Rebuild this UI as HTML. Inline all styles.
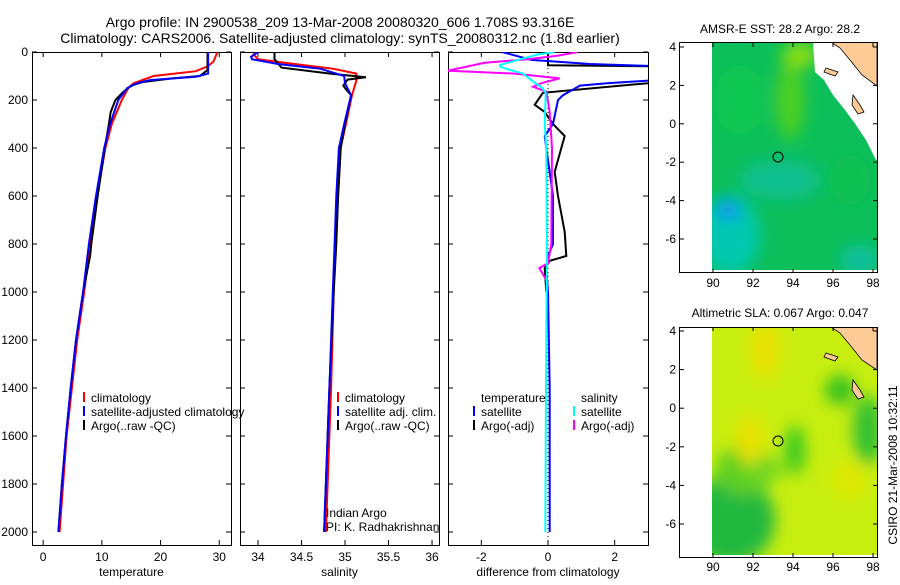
<!DOCTYPE html>
<html><head><meta charset="utf-8">
<style>
body{margin:0;background:#fff;width:900px;height:580px;overflow:hidden;font-family:"Liberation Sans",sans-serif;}
svg text{font-family:"Liberation Sans",sans-serif;fill:#000;}
</style></head>
<body>
<svg id="fig" width="900" height="580" viewBox="0 0 900 580">
<defs>
<filter id="bl" x="-50%" y="-50%" width="200%" height="200%"><feGaussianBlur stdDeviation="8"/></filter>
<clipPath id="m1c"><rect x="712" y="42" width="165" height="228"/></clipPath>
<clipPath id="m2c"><rect x="712" y="327" width="165" height="228"/></clipPath>
<clipPath id="p1c"><rect x="32" y="52" width="199" height="493"/></clipPath>
<clipPath id="p2c"><rect x="240" y="52" width="199" height="493"/></clipPath>
<clipPath id="p3c"><rect x="448" y="52" width="200" height="493"/></clipPath>
</defs>
<text x="340" y="27" font-size="14" text-anchor="middle">Argo profile: IN 2900538_209 13-Mar-2008 20080320_606 1.708S 93.316E</text>
<text x="340" y="43" font-size="14" text-anchor="middle">Climatology: CARS2006. Satellite-adjusted climatology: synTS_20080312.nc (1.8d earlier)</text>

<g>
<text x="780" y="33" font-size="12" text-anchor="middle">AMSR-E SST: 28.2 Argo: 28.2</text>
<g clip-path="url(#m1c)">
<rect x="712" y="42" width="165" height="228" fill="#0cbf5a"/>
<g filter="url(#bl)">
<ellipse cx="730" cy="235" rx="30" ry="40" fill="#00c8b0"/>
<ellipse cx="728" cy="210" rx="10" ry="9" fill="#1080ff"/>
<ellipse cx="790" cy="100" rx="14" ry="40" fill="#50d020"/>
<ellipse cx="800" cy="55" rx="18" ry="12" fill="#90e010"/>
<ellipse cx="780" cy="180" rx="40" ry="20" fill="#10c090"/>
<ellipse cx="860" cy="260" rx="20" ry="15" fill="#10c0a0"/>
<ellipse cx="740" cy="100" rx="25" ry="35" fill="#10c850"/>
<ellipse cx="850" cy="180" rx="20" ry="25" fill="#10c050"/>
</g>
<polygon points="813,42 815,72 824,80 833,95 845,110 856,125 866,140 872,152 876,160 877,160 877,42" fill="#fff"/>
<polygon points="831,42 840,48 850,60 862,75 877,86 877,42" fill="#fecb96" stroke="#000" stroke-width="0.8"/>
<polygon points="826,68 838,72 835,76 824,72" fill="#fecb96" stroke="#000" stroke-width="0.8"/>
<polygon points="853,95 860,105 864,112 858,114 852,105" fill="#fecb96" stroke="#000" stroke-width="0.8"/>
</g>
<circle cx="778" cy="157" r="5" fill="none" stroke="#000" stroke-width="1"/>
<rect x="679.5" y="42.5" width="198" height="230" fill="none" stroke="#000"/>
</g>

<g>
<text x="780" y="317" font-size="12" text-anchor="middle">Altimetric SLA: 0.067 Argo: 0.047</text>
<g clip-path="url(#m2c)">
<rect x="712" y="327" width="165" height="228" fill="#c8ee10"/>
<g filter="url(#bl)">
<ellipse cx="730" cy="520" rx="45" ry="45" fill="#20b840"/>
<ellipse cx="745" cy="470" rx="30" ry="25" fill="#60d020"/>
<ellipse cx="765" cy="470" rx="20" ry="10" fill="#70d820"/>
<ellipse cx="795" cy="450" rx="10" ry="25" fill="#30c820"/>
<ellipse cx="840" cy="390" rx="15" ry="15" fill="#30c020"/>
<ellipse cx="868" cy="430" rx="15" ry="35" fill="#30c030"/>
<ellipse cx="750" cy="440" rx="14" ry="25" fill="#e8e000"/>
<ellipse cx="765" cy="350" rx="15" ry="30" fill="#e8e000"/>
<ellipse cx="850" cy="480" rx="15" ry="20" fill="#e0e800"/>
</g>
<polygon points="831,327 840,333 850,345 862,360 877,370 877,327" fill="#fecb96" stroke="#000" stroke-width="0.8"/>
<polygon points="826,353 838,357 835,361 824,357" fill="#fecb96" stroke="#000" stroke-width="0.8"/>
<polygon points="853,380 860,390 864,397 858,399 852,390" fill="#fecb96" stroke="#000" stroke-width="0.8"/>
</g>
<circle cx="778" cy="441" r="5" fill="none" stroke="#000" stroke-width="1"/>
<rect x="679.5" y="327.5" width="198" height="230" fill="none" stroke="#000"/>
<text transform="translate(897,465) rotate(-90)" font-size="12" text-anchor="middle">CSIRO 21-Mar-2008 10:32:11</text>
</g>
<g id="dyn"></g>
</svg>
<script>
const tClimDepth = [0,40,60,80,100,130,150,200,300,400,600,800,1000,1200,1400,1600,1800,2000];
const tClim      = [29.7,29.0,28.0,26.0,18.8,15.4,14.5,13.4,11.7,10.6,9.2,8.0,7.0,5.8,4.9,4.0,3.4,2.8];
const tSatDepth  = [0,90,103,117,130,151,200,300,400,600,800,1000,1200,1400,1600,1800,2000];
const tSat       = [28.1,28.1,26.0,18.2,16.0,14.3,12.8,11.4,10.4,9.0,7.8,6.8,5.6,4.7,3.9,3.2,2.6];
const tArgoDepth = [0,75,100,110,125,140,170,200,250,300,400,600,800,850,1000,1200,1400,1600,1800,2000];
const tArgo      = [28.0,28.0,26.7,22,17,15,13.5,12.3,11.5,11.2,10.5,9.3,8.2,8.0,6.8,5.6,4.7,3.9,3.2,2.6];

const sClimDepth = [0,10,30,50,70,90,120,180,300,400,600,800,1000,1400,2000];
const sClim      = [34.0,33.95,34.0,34.42,34.87,35.13,35.13,35.08,35.01,34.95,34.92,34.89,34.87,34.84,34.78];
const sSatDepth  = [0,20,30,50,70,100,130,180,300,400,600,800,1000,1400,2000];
const sSat       = [34.0,33.92,33.93,34.23,34.72,34.99,35.0,35.07,34.99,34.93,34.9,34.88,34.86,34.82,34.76];
const sArgoDepth = [0,30,65,90,105,115,140,160,180,300,400,600,800,1000,1400,2000];
const sArgo      = [34.19,34.19,34.27,34.83,35.24,35.03,34.98,35.02,35.07,35.0,34.95,34.92,34.9,34.87,34.82,34.76];

const dTSatDepth = [0,33,50,60,115,130,140,180,200,300,350,400,600,800,850,900,1000,1400,2000];
const dTSat      = [-1.38,-0.5,1.26,3.5,3.5,1.77,0.96,0.45,0.3,0.15,-0.1,-0.05,0.15,0.15,0.0,-0.05,0.0,0.05,0.05];
const dTArgoDepth= [0,55,60,120,130,170,180,200,220,250,300,350,400,500,600,750,850,870,900,1000];
const dTArgo     = [0,0,3.5,3.5,3.0,-0.15,-0.2,-0.3,-0.4,-0.1,0.15,0.5,0.4,0.2,0.3,0.5,0.55,0.05,-0.1,-0.05];
const dSSatDepth = [0,10,54,60,70,90,120,150,170,300,400,800,1400,2000];
const dSSat      = [0.2,-0.3,-1.44,-1.44,-1.25,-0.75,-0.47,-0.17,-0.07,-0.1,-0.05,-0.03,-0.06,-0.08];
const dSArgoDepth= [0,15,30,45,78,90,110,130,145,165,250,400,800,880,900,950,1000];
const dSArgo     = [0.9,0.3,-0.6,-1.9,-3.0,-1.0,0.35,-0.2,-0.45,-0.05,0.05,0.12,0.1,0.0,-0.26,-0.05,-0.02];

const depthTicks = [0,200,400,600,800,1000,1200,1400,1600,1800,2000];
const tTicks = [0,10,20,30];
const sTicks = [34,34.5,35,35.5,36];
const dTicks = [-2,0,2];
const lonTicks = [90,92,94,96,98];
const latTicks = [4,2,0,-2,-4,-6];

const NS='http://www.w3.org/2000/svg';
const root=document.getElementById('dyn');
function el(tag,attrs,parent){const e=document.createElementNS(NS,tag);for(const k in attrs)e.setAttribute(k,attrs[k]);(parent||root).appendChild(e);return e;}
const yD = d => 52 + d*0.24;
const panels=[
 {x0:32,x1:231,v0:-1.9,v1:32,ticks:tTicks,label:'temperature',clip:'p1c',name:'temperature-panel'},
 {x0:240,x1:439,v0:33.793,v1:36.08,ticks:sTicks,label:'salinity',clip:'p2c',name:'salinity-panel'},
 {x0:448,x1:648,v0:-3.0,v1:3.0,ticks:dTicks,label:'difference from climatology',clip:'p3c',name:'difference-panel'}
];
panels.forEach(p=>{p.sx=v=>p.x0+(v-p.v0)/(p.v1-p.v0)*(p.x1-p.x0);});
panels.forEach((p,i)=>{
 const g=el('g',{});
 
 
 el('rect',{x:p.x0+0.5,y:52.5,width:p.x1-p.x0,height:493,fill:'none',stroke:'#000'},g);
 p.ticks.forEach(t=>{
  const x=p.sx(t);
  el('line',{x1:x,x2:x,y1:545,y2:540,stroke:'#000'},g);
  el('line',{x1:x,x2:x,y1:52,y2:57,stroke:'#000'},g);
  const tx=el('text',{x:x,y:561,'font-size':12,'text-anchor':'middle'},g);
  tx.textContent=String(t);
  
  
 });
 depthTicks.forEach(d=>{
  const y=yD(d);
  el('line',{x1:p.x0,x2:p.x0+5,y1:y,y2:y,stroke:'#000'},g);
  el('line',{x1:p.x1,x2:p.x1-5,y1:y,y2:y,stroke:'#000'},g);
  if(i===0){const tx=el('text',{x:28,y:y+4,'font-size':12,'text-anchor':'end'},g);tx.textContent=String(d);
   
   }
 });
 const xl=el('text',{x:(p.x0+p.x1)/2,y:576,'font-size':12,'text-anchor':'middle'},g);
 xl.textContent=p.label;
 
 
});
const zl=el('line',{x1:panels[2].sx(0),x2:panels[2].sx(0),y1:52,y2:545,stroke:'#000','stroke-dasharray':'1 3'});



function line(p,ds,vs,color,name){
 const pts=ds.map((d,k)=>p.sx(vs[k]).toFixed(1)+','+yD(d).toFixed(1)).join(' ');
 const pl=el('polyline',{points:pts,fill:'none',stroke:color,'stroke-width':2,'clip-path':'url(#'+p.clip+')'});
 
 
}
line(panels[0],tClimDepth,tClim,'#f00','temp-climatology-line');
line(panels[0],tArgoDepth,tArgo,'#000','temp-argo-line');
line(panels[0],tSatDepth,tSat,'#00f','temp-satellite-line');
line(panels[1],sClimDepth,sClim,'#f00','sal-climatology-line');
line(panels[1],sArgoDepth,sArgo,'#000','sal-argo-line');
line(panels[1],sSatDepth,sSat,'#00f','sal-satellite-line');
line(panels[2],dTArgoDepth,dTArgo,'#000','dtemp-argo-line');
line(panels[2],dTSatDepth,dTSat,'#00f','dtemp-satellite-line');
line(panels[2],dSArgoDepth,dSArgo,'#f0f','dsal-argo-line');
line(panels[2],dSSatDepth,dSSat,'#0ff','dsal-satellite-line');

function legend(x,y,color,label,name){
 if(color){const b=el('line',{x1:x,x2:x,y1:y-10,y2:y,stroke:color,'stroke-width':2});
  
  }
 const t=el('text',{x:x+7,y:y,'font-size':12});t.textContent=label;
 
 
}
legend(84,402,'#f00','climatology','legend-climatology');
legend(84,416,'#00f','satellite-adjusted climatology','legend-satellite-adjusted');
legend(84,430,'#000','Argo(..raw -QC)','legend-argo');
legend(338,402,'#f00','climatology','legend-sal-climatology');
legend(338,416,'#00f','satellite adj. clim.','legend-sal-satellite');
legend(338,430,'#000','Argo(..raw -QC)','legend-sal-argo');
legend(474,402,null,'temperature','legend-temperature-header');
legend(474,416,'#00f','satellite','legend-dtemp-satellite');
legend(474,430,'#000','Argo(-adj)','legend-dtemp-argo');
legend(574,402,null,'salinity','legend-salinity-header');
legend(574,416,'#0ff','satellite','legend-dsal-satellite');
legend(574,430,'#f0f','Argo(-adj)','legend-dsal-argo');
legend(319,517,null,'Indian Argo','pi-note-1');
legend(319,531,null,'PI: K. Radhakrishnan','pi-note-2');

const lonX = v => 713 + (v-90)*20;
[[47,19.2,273],[331,19.3,557]].forEach(([y4,ppd,yb],mi)=>{
 const latY = v => y4 + (4-v)*ppd;
 latTicks.forEach(v=>{
  const y=latY(v);
  el('line',{x1:680,x2:684,y1:y,y2:y,stroke:'#000'});
  el('line',{x1:877,x2:873,y1:y,y2:y,stroke:'#000'});
  const t=el('text',{x:676,y:y+4,'font-size':12,'text-anchor':'end'});t.textContent=String(v);
  
  
 });
 lonTicks.forEach(v=>{
  const x=lonX(v);
  el('line',{x1:x,x2:x,y1:yb,y2:yb-4,stroke:'#000'});
  el('line',{x1:x,x2:x,y1:yb-230,y2:yb-226,stroke:'#000'});
  const t=el('text',{x:x,y:yb+14,'font-size':12,'text-anchor':'middle'});t.textContent=String(v);
  
  
 });
});
</script>
</body></html>
